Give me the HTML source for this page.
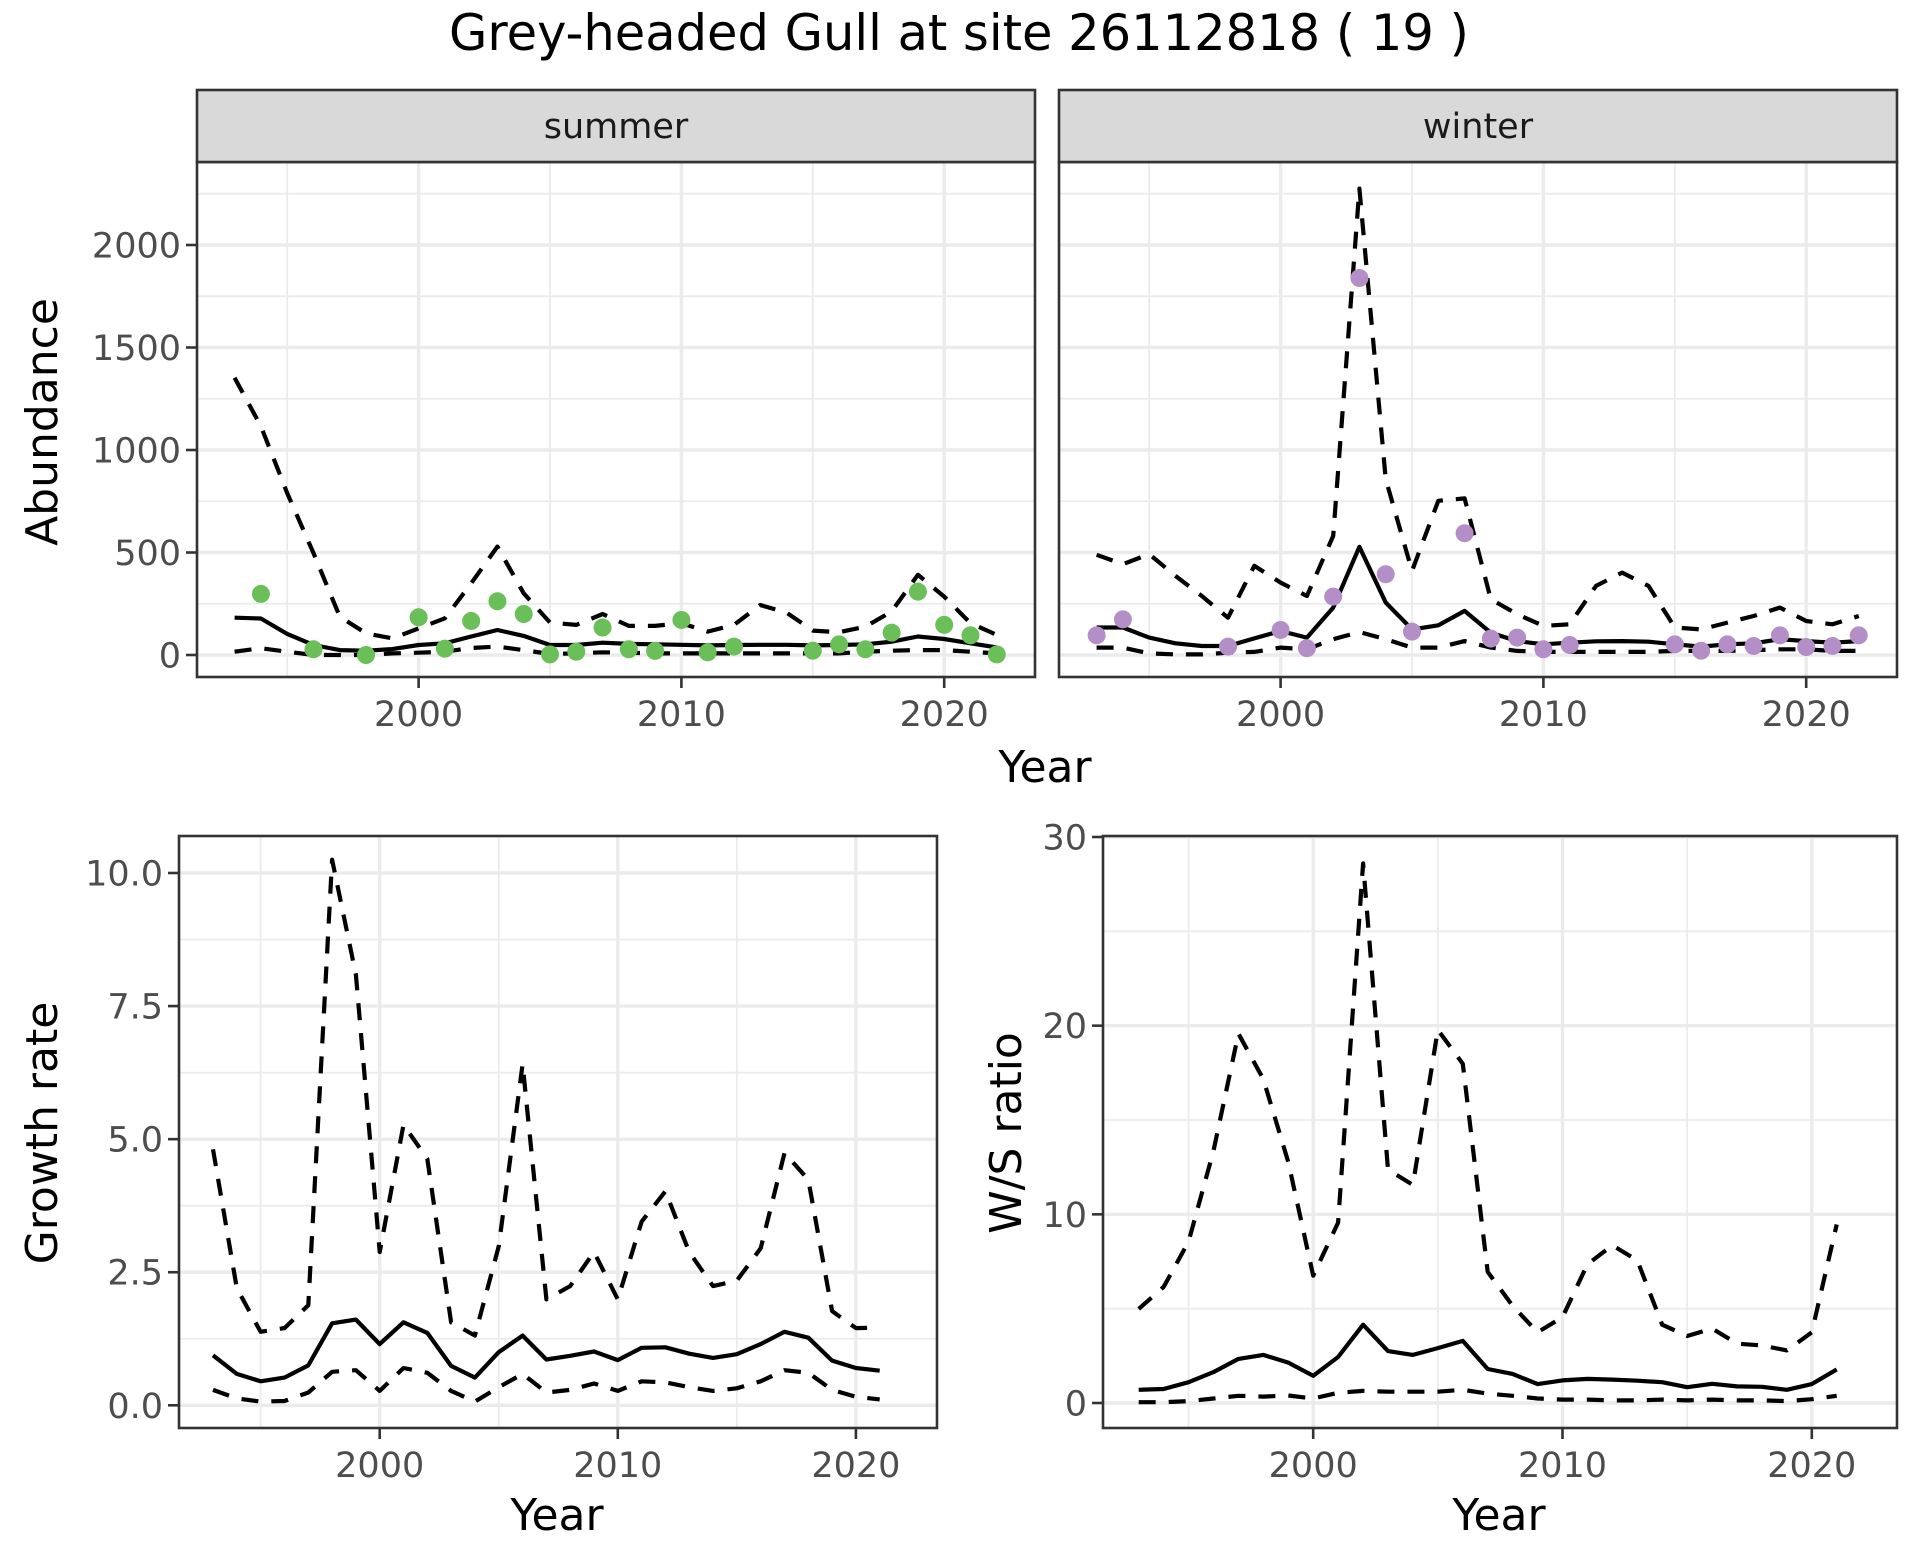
<!DOCTYPE html>
<html><head><meta charset="utf-8"><title>Grey-headed Gull</title>
<style>
html,body{margin:0;padding:0;background:#fff;}
svg{display:block;font-family:"DejaVu Sans","Liberation Sans",sans-serif;}
</style></head>
<body>
<svg id="chart" width="1920" height="1560" viewBox="0 0 1920 1560" xmlns="http://www.w3.org/2000/svg">
<rect x="0" y="0" width="1920" height="1560" fill="#fff"/>
<text x="959" y="50" font-size="49.5" text-anchor="middle" fill="#000">Grey-headed Gull at site 26112818 ( 19 )</text>
<g id="layer"></g>
</svg>
<script>
// ---------- data ----------
const yearsAbund = [1993,1994,1995,1996,1997,1998,1999,2000,2001,2002,2003,2004,2005,2006,2007,2008,2009,2010,2011,2012,2013,2014,2015,2016,2017,2018,2019,2020,2021,2022];
const summerMean  = [182,178,103,49,24,21,29,49,57,90,122,93,49,49,60,54,52,50,47,49,50,50,47,49,52,65,90,78,57,37];
const summerUpper = [1352,1116,790,497,187,106,81,130,179,350,529,301,158,147,200,142,142,155,114,147,244,207,119,111,138,212,391,285,155,98];
const summerLower = [16,33,16,0,0,0,8,11,16,34,41,24,5,8,13,11,8,8,8,8,8,8,8,8,16,21,24,24,16,8];
const summerObsYears = [1994,1996,1998,2000,2001,2002,2003,2004,2005,2006,2007,2008,2009,2010,2011,2012,2015,2016,2017,2018,2019,2020,2021,2022];
const summerObs = [298,28,0,184,31,166,262,200,3,16,134,28,20,171,13,41,21,52,28,109,309,147,96,3];
const winterMean  = [134,134,85,57,44,44,81,117,85,231,528,256,125,145,215,109,68,52,60,67,68,65,52,41,52,57,77,68,60,68];
const winterUpper = [489,443,492,386,288,182,435,353,288,581,2275,858,410,752,764,272,199,142,150,337,402,337,134,125,158,190,231,166,150,190];
const winterLower = [36,36,8,3,3,11,15,36,28,77,112,77,36,36,68,36,20,15,15,15,15,15,20,20,20,24,28,28,20,20];
const winterObsYears = [1993,1994,1998,2000,2001,2002,2003,2004,2005,2007,2008,2009,2010,2011,2015,2016,2017,2018,2019,2020,2021,2022];
const winterObs = [96,174,41,122,33,285,1839,394,114,594,80,85,28,49,52,21,52,44,96,39,44,96];
const yearsRate = [1993,1994,1995,1996,1997,1998,1999,2000,2001,2002,2003,2004,2005,2006,2007,2008,2009,2010,2011,2012,2013,2014,2015,2016,2017,2018,2019,2020,2021];
const growthMean  = [0.94,0.59,0.45,0.52,0.75,1.54,1.61,1.15,1.56,1.36,0.74,0.52,1.0,1.31,0.86,0.93,1.01,0.85,1.08,1.09,0.97,0.89,0.96,1.15,1.38,1.27,0.84,0.70,0.65];
const growthUpper = [4.81,2.2,1.38,1.45,1.88,10.25,8.09,2.88,5.27,4.63,1.56,1.31,2.99,6.41,1.99,2.24,2.88,1.99,3.45,4.02,2.88,2.24,2.34,2.95,4.74,4.24,1.77,1.45,1.46];
const growthLower = [0.29,0.13,0.07,0.08,0.24,0.63,0.66,0.27,0.70,0.61,0.27,0.07,0.34,0.59,0.24,0.29,0.41,0.27,0.45,0.43,0.34,0.27,0.32,0.45,0.66,0.61,0.29,0.16,0.11];
const ratioMean  = [0.70,0.74,1.10,1.64,2.34,2.55,2.14,1.44,2.44,4.15,2.75,2.55,2.91,3.29,1.80,1.54,1.00,1.20,1.28,1.24,1.18,1.10,0.84,1.02,0.88,0.86,0.70,1.00,1.78];
const ratioUpper = [4.99,6.15,8.56,13.37,19.58,17.17,12.77,6.75,9.56,28.6,12.37,11.56,19.78,17.98,6.95,5.15,3.75,4.55,7.35,8.36,7.56,4.15,3.55,3.95,3.15,3.05,2.79,3.75,9.46];
const ratioLower = [0.04,0.04,0.1,0.24,0.38,0.34,0.40,0.24,0.54,0.64,0.6,0.6,0.6,0.7,0.5,0.38,0.24,0.18,0.18,0.14,0.14,0.18,0.14,0.18,0.14,0.14,0.1,0.2,0.38];
const abundTicks = [0,500,1000,1500,2000];
const abundMinor = [250,750,1250,1750,2250];
const growthTicks = [0,2.5,5,7.5,10];
const growthTickLabels = ["0.0","2.5","5.0","7.5","10.0"];
const growthMinor = [1.25,3.75,6.25,8.75];
const ratioTicks = [0,10,20,30];
const ratioMinor = [5,15,25];
const yearTicks = [2000,2010,2020];
const yearMinor = [1995,2005,2015];

// ---------- helpers ----------
const NS = "http://www.w3.org/2000/svg";
const layer = document.getElementById("layer");
function mk(tag, attrs, parent){
  const e = document.createElementNS(NS, tag);
  for (const k in attrs) e.setAttribute(k, attrs[k]);
  (parent||layer).appendChild(e);
  return e;
}
function linScale(d0,d1,r0,r1){ return v => r0 + (v-d0)*(r1-r0)/(d1-d0); }

function panel(p){
  const g = mk("g", {});
  
  
  const x = linScale(2000, 2010, p.x2000, p.x2010);
  const y = linScale(p.v0, p.v1, p.y0, p.y1);
  mk("rect", {x:p.L, y:p.T, width:p.R-p.L, height:p.B-p.T, fill:"#fff"}, g);
  p.yMinor.forEach(v => { const yy=y(v); if(yy>p.T && yy<p.B) mk("line",{x1:p.L,x2:p.R,y1:yy,y2:yy,stroke:"#ebebeb","stroke-width":1.8},g); });
  yearMinor.forEach(v => { const xx=x(v); if(xx>p.L && xx<p.R) mk("line",{x1:xx,x2:xx,y1:p.T,y2:p.B,stroke:"#ebebeb","stroke-width":1.8},g); });
  p.yTicks.forEach(v => { const yy=y(v); mk("line",{x1:p.L,x2:p.R,y1:yy,y2:yy,stroke:"#ebebeb","stroke-width":3.4},g); });
  yearTicks.forEach(v => { const xx=x(v); mk("line",{x1:xx,x2:xx,y1:p.T,y2:p.B,stroke:"#ebebeb","stroke-width":3.4},g); });
  function path(xs, vs, dashed, nm){
    const d = xs.map((yr,i)=>(i?"L":"M")+x(yr).toFixed(1)+","+y(vs[i]).toFixed(1)).join("");
    const el = mk("path",{d:d,fill:"none",stroke:"#000","stroke-width":4.2,"stroke-linejoin":"round"},g);
    if (dashed) el.setAttribute("stroke-dasharray","17 13");
    
    
  }
  path(p.years, p.upper, true, p.prefix+"-upper-ci-line");
  path(p.years, p.lower, true, p.prefix+"-lower-ci-line");
  path(p.years, p.mean, false, p.prefix+"-mean-line");
  if (p.obs){
    p.obsYears.forEach((yr,i)=>{
      const c = mk("circle",{cx:x(yr),cy:y(p.obs[i]),r:9,fill:p.color},g);
      
      
    });
  }
  mk("rect",{x:p.L,y:p.T,width:p.R-p.L,height:p.B-p.T,fill:"none",stroke:"#333","stroke-width":2.6},g);
  if (p.showY){
    p.yTicks.forEach((v,i)=>{
      const yy=y(v);
      mk("line",{x1:p.L-11,x2:p.L,y1:yy,y2:yy,stroke:"#333","stroke-width":2.6},g);
      const t = mk("text",{x:p.L-16,y:yy+12.5,"font-size":35,"text-anchor":"end",fill:"#4d4d4d"},g);
      t.textContent = p.yLabels ? p.yLabels[i] : String(v);
      
      
    });
  }
  yearTicks.forEach(v=>{
    const xx=x(v);
    mk("line",{x1:xx,x2:xx,y1:p.B,y2:p.B+11,stroke:"#333","stroke-width":2.6},g);
    const t = mk("text",{x:xx,y:p.B+49,"font-size":35,"text-anchor":"middle",fill:"#4d4d4d"},g);
    t.textContent = String(v);
    
    
  });
  if (p.strip){
    const s = mk("g",{},g);
    
    
    mk("rect",{x:p.L,y:90,width:p.R-p.L,height:p.T-90,fill:"#d9d9d9",stroke:"#333","stroke-width":2.6},s);
    const t = mk("text",{x:(p.L+p.R)/2,y:138,"font-size":35,"text-anchor":"middle",fill:"#1a1a1a"},s);
    t.textContent = p.strip;
  }
}

panel({name:"summer-abundance-panel",prefix:"summer",L:197,R:1035,T:162,B:677,x2000:418.6,x2010:681.4,v0:0,v1:2000,y0:655,y1:245,
  yTicks:abundTicks,yMinor:abundMinor,years:yearsAbund,mean:summerMean,upper:summerUpper,lower:summerLower,
  obs:summerObs,obsYears:summerObsYears,color:"#6bbf59",showY:true,strip:"summer"});
panel({name:"winter-abundance-panel",prefix:"winter",L:1059,R:1897,T:162,B:677,x2000:1280.6,x2010:1543.4,v0:0,v1:2000,y0:655,y1:245,
  yTicks:abundTicks,yMinor:abundMinor,years:yearsAbund,mean:winterMean,upper:winterUpper,lower:winterLower,
  obs:winterObs,obsYears:winterObsYears,color:"#b48fc7",showY:false,strip:"winter"});
panel({name:"growth-rate-panel",prefix:"growth",L:179,R:937,T:836,B:1428,x2000:379.7,x2010:617.8,v0:0,v1:10,y0:1405.3,y1:873,
  yTicks:growthTicks,yLabels:growthTickLabels,yMinor:growthMinor,years:yearsRate,mean:growthMean,upper:growthUpper,lower:growthLower,showY:true});
panel({name:"ws-ratio-panel",prefix:"ratio",L:1103,R:1897,T:836,B:1428,x2000:1313.2,x2010:1562.5,v0:0,v1:30,y0:1403,y1:837,
  yTicks:ratioTicks,yMinor:ratioMinor,years:yearsRate,mean:ratioMean,upper:ratioUpper,lower:ratioLower,showY:true});

function title(txt,x,y,rot,nm){
  const t = mk("text",{x:x,y:y,"font-size":44,"text-anchor":"middle",fill:"#000"});
  if (rot) t.setAttribute("transform","rotate(-90 "+x+" "+y+")");
  t.textContent = txt;
  
  
}
title("Year",1045,782,false,"top-x-axis-title");
title("Abundance",57,422,true,"abundance-y-axis-title");
title("Year",557,1530,false,"growth-x-axis-title");
title("Growth rate",57,1133,true,"growth-y-axis-title");
title("Year",1499,1530,false,"ratio-x-axis-title");
title("W/S ratio",1021,1133,true,"ratio-y-axis-title");
</script>
</body></html>
